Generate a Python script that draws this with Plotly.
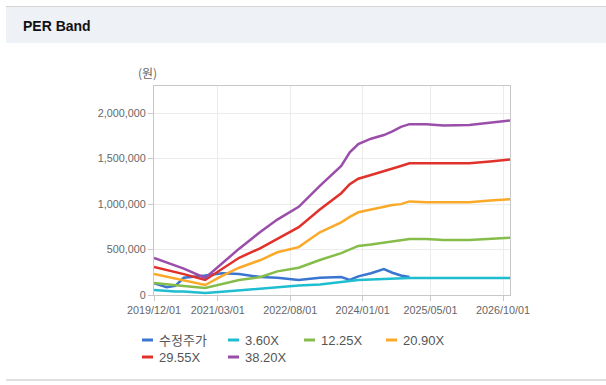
import plotly.graph_objects as go

# ---------------- data ----------------
dates = ["2019-12-01", "2020-03-01", "2020-05-01", "2020-07-01", "2020-12-01", "2021-04-01",
         "2021-08-01", "2022-01-01", "2022-05-01", "2022-10-01", "2023-03-01", "2023-08-01",
         "2023-10-01", "2023-12-01", "2024-03-01", "2024-06-01", "2024-08-01", "2024-10-01",
         "2024-12-01", "2025-04-01", "2025-08-01", "2026-02-01", "2026-07-01", "2026-11-20"]

price = [130000, 85000, 100000, 190000, 215000, 240000, 230000, 198000, 190000, 165000,
         190000, 198000, 165000, 205000, 240000, 286000, 245000, 215000, 198000,
         None, None, None, None, None]
per_360 = [55000, 40000, 38000, 38000, 22000, 35000, 50000, 65000, 85000, 105000, 115000,
           140000, 150000, 165000, 170000, 178000, 183000, 187000, 187000, 187000, 187000,
           187000, 187000, 187000]
per_1225 = [132000, 115000, 108000, 100000, 77000, 120000, 165000, 198000, 260000, 300000,
            385000, 460000, 500000, 540000, 555000, 575000, 590000, 605000, 615000, 615000,
            604000, 605000, 615000, 630000]
per_2090 = [231000, 200000, 182000, 165000, 110000, 210000, 300000, 385000, 470000, 527000,
            690000, 800000, 860000, 910000, 940000, 970000, 990000, 1000000, 1030000, 1020000,
            1020000, 1020000, 1040000, 1055000]
per_2955 = [308000, 275000, 252000, 230000, 165000, 290000, 410000, 516000, 620000, 747000,
            940000, 1120000, 1220000, 1280000, 1320000, 1360000, 1390000, 1420000, 1450000,
            1450000, 1450000, 1450000, 1470000, 1490000]
per_3820 = [407000, 360000, 325000, 290000, 187000, 345000, 510000, 696000, 830000, 970000,
            1200000, 1420000, 1570000, 1660000, 1720000, 1760000, 1800000, 1850000, 1880000,
            1880000, 1865000, 1870000, 1900000, 1920000]

series_names = ["수정주가", "3.60X", "12.25X", "20.90X", "29.55X", "38.20X"]
series_values = [price, per_360, per_1225, per_2090, per_2955, per_3820]
series_colors = ["#3a75d0", "#1fbdd0", "#86bc4a", "#faa929", "#e0322b", "#9a4ea9"]

x_tickvals = ["2019-12-01", "2021-03-01", "2022-08-01", "2024-01-01", "2025-05-01", "2026-10-01"]
x_ticktext = ["2019/12/01", "2021/03/01", "2022/08/01", "2024/01/01", "2025/05/01", "2026/10/01"]
y_tickvals = [0, 500000, 1000000, 1500000, 2000000]

# ---------------- figure ----------------
W, H = 606, 385
fig = go.Figure()
for name, vals, col in zip(series_names, series_values, series_colors):
    fig.add_trace(go.Scatter(x=dates, y=vals, name=name, mode="lines",
                             line=dict(color=col, width=2.5), connectgaps=False,
                             showlegend=False))

def px(x):
    return x / W

def py(y):
    return 1 - y / H

shapes = [
    dict(type="rect", xref="paper", yref="paper", x0=px(6), x1=1, y0=py(43), y1=py(7),
         fillcolor="#eef2f7", line=dict(width=0), layer="below"),
    dict(type="line", xref="paper", yref="paper", x0=px(6), x1=1, y0=py(6.5), y1=py(6.5),
         line=dict(color="#d4d4d4", width=1)),
    dict(type="line", xref="paper", yref="paper", x0=px(6), x1=1, y0=py(380), y1=py(380),
         line=dict(color="#d4d4d4", width=1.5)),
]
annotations = [
    dict(text="<b>PER Band</b>", xref="paper", yref="paper", x=px(21), y=py(26),
         xanchor="left", yanchor="middle", showarrow=False,
         font=dict(family="Liberation Sans, Arial", size=14, color="#111")),
    dict(text="(원)", xref="paper", yref="paper", x=px(147), y=py(73),
         xanchor="center", yanchor="middle", showarrow=False,
         font=dict(family="Noto Sans CJK KR", size=12, color="#666")),
]

# custom legend (short dash + label)
legend_pos = [(142, 340), (228, 340), (304, 340), (386, 340), (142, 357), (228, 357)]
for (lx, ly), name, col in zip(legend_pos, series_names, series_colors):
    shapes.append(dict(type="line", xref="paper", yref="paper", x0=px(lx), x1=px(lx + 11),
                       y0=py(ly), y1=py(ly), line=dict(color=col, width=3)))
    annotations.append(dict(text=name, xref="paper", yref="paper", x=px(lx + 15), y=py(ly),
                            xanchor="left", yanchor="middle", showarrow=False,
                            font=dict(family="Liberation Sans, Noto Sans CJK KR", size=13,
                                      color="#555")))

fig.update_layout(
    width=W, height=H, autosize=False,
    margin=dict(l=0, r=0, t=0, b=0, pad=0, autoexpand=False),
    paper_bgcolor="white", plot_bgcolor="white",
    shapes=shapes, annotations=annotations,
    xaxis=dict(domain=[px(154), px(510)], type="date", automargin=False,
               range=["2019-12-01", "2026-11-20"],
               tickvals=x_tickvals, ticktext=x_ticktext,
               showgrid=True, gridcolor="#ececec", gridwidth=1,
               showline=True, linecolor="#c8c8c8", mirror=True, linewidth=1,
               ticks="outside", ticklen=5, tickcolor="#c8c8c8",
               tickfont=dict(family="Liberation Sans, Arial", size=10.8, color="#666"),
               zeroline=False),
    yaxis=dict(domain=[py(295), py(86)], range=[0, 2300000], automargin=False,
               tickvals=y_tickvals, tickformat=",d",
               showgrid=True, gridcolor="#ececec", gridwidth=1,
               showline=True, linecolor="#c8c8c8", mirror=True, linewidth=1,
               ticks="outside", ticklen=5, tickcolor="#c8c8c8",
               tickfont=dict(family="Liberation Sans, Arial", size=10.8, color="#666"),
               zeroline=False),
)

fig.write_html("out.html", config={"displayModeBar": False},
               post_script="document.body.style.margin='0';document.body.style.padding='0';")
